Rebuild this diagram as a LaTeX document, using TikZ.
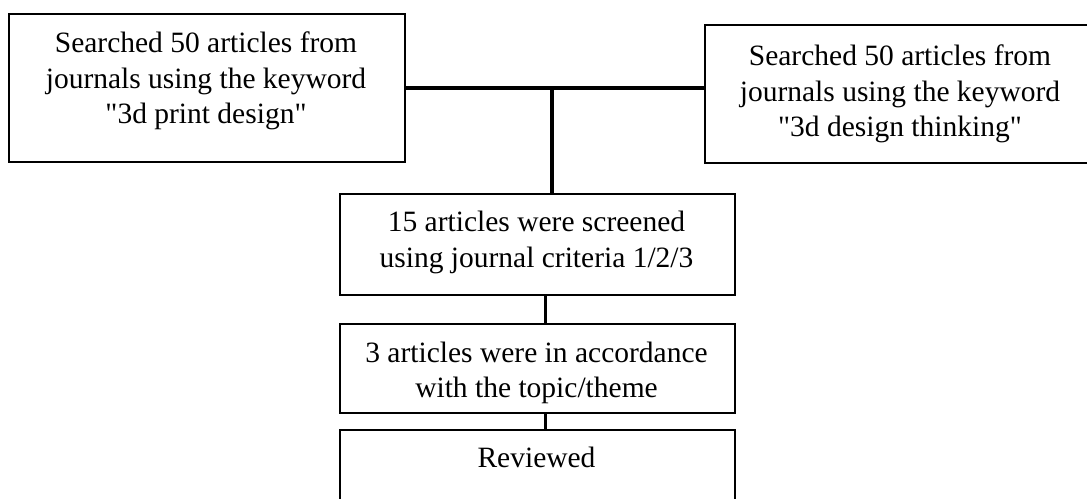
\documentclass[tikz,border=0pt]{standalone}
\usepackage{fontspec}
\setmainfont{Liberation Serif}[Ligatures=TeXOff]
\begin{document}
\begin{tikzpicture}[x=1pt,y=-1pt,
  box/.style={draw, line width=2.4pt, rectangle, inner sep=0pt, anchor=north west},
  txt/.style={font=\fontsize{29.5}{35.5}\selectfont, align=center, inner sep=0pt},
  link/.style={line width=3.4pt}]
\useasboundingbox (0,0) rectangle (1087,498);
\node[box, minimum width=396pt, minimum height=148pt] (b1) at (8,13) {};
\node[box, minimum width=420pt, minimum height=138pt] (b2) at (704,24) {};
\node[box, minimum width=395pt, minimum height=101pt] (b3) at (339,193) {};
\node[box, minimum width=395pt, minimum height=89pt] (b4) at (339,323) {};
\node[box, minimum width=395pt, minimum height=120pt] (b5) at (339,429) {};
\node[txt] (t1) at (206,81) {Searched 50 articles from\\journals using the keyword\\"3d print design"};
\node[txt] (t2) at (900,94) {Searched 50 articles from\\journals using the keyword\\"3d design thinking"};
\node[txt] (t3) at (536.5,242.5) {15 articles were screened\\using journal criteria 1/2/3};
\node[txt] (t4) at (536.5,373) {3 articles were in accordance\\with the topic/theme};
\node[txt, anchor=base] (t5) at (536.5,467) {Reviewed};
\coordinate (j) at (552,88);
\draw[link] (b1.east |- j) -- (j) -- (j -| b2.west);
\draw[link] (j) -- (j |- b3.north);
\draw[link] ([xshift=7.5pt]b3.south) -- ([xshift=7.5pt]b4.north);
\draw[link] ([xshift=7.5pt]b4.south) -- ([xshift=7.5pt]b5.north);
\end{tikzpicture}
\end{document}
